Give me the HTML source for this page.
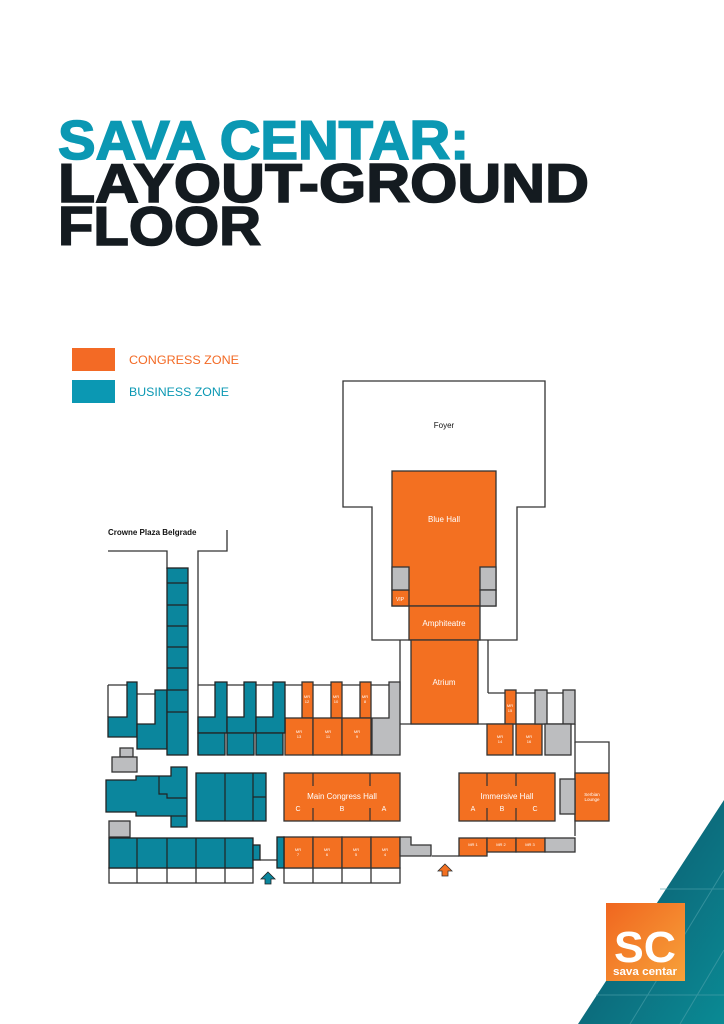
<!DOCTYPE html>
<html><head><meta charset="utf-8"><style>
html,body{margin:0;padding:0;background:#fff;}
body{width:724px;height:1024px;overflow:hidden;position:relative;font-family:"Liberation Sans",sans-serif;}
svg{position:absolute;left:0;top:0;}
</style></head><body>
<svg width="724" height="1024" viewBox="0 0 724 1024" xmlns="http://www.w3.org/2000/svg" font-family="Liberation Sans, sans-serif">
<defs>
<linearGradient id="tg" x1="0" y1="0" x2="1" y2="1"><stop offset="0" stop-color="#0f4f66"/><stop offset="1" stop-color="#0a8a94"/></linearGradient>
<linearGradient id="og" x1="0" y1="0" x2="1" y2="1"><stop offset="0" stop-color="#f0661f"/><stop offset="1" stop-color="#f7a23a"/></linearGradient>
</defs>
<!-- title -->
<text x="58" y="159" font-size="55" font-weight="bold" fill="#0b98b3" stroke="#0b98b3" stroke-width="1.6" textLength="411" lengthAdjust="spacingAndGlyphs">SAVA CENTAR:</text>
<text x="58" y="202" font-size="55" font-weight="bold" fill="#141b20" stroke="#141b20" stroke-width="1.6" textLength="531" lengthAdjust="spacingAndGlyphs">LAYOUT-GROUND</text>
<text x="58" y="245" font-size="55" font-weight="bold" fill="#141b20" stroke="#141b20" stroke-width="1.6" textLength="203" lengthAdjust="spacingAndGlyphs">FLOOR</text>
<!-- legend -->
<rect x="72" y="348" width="43" height="23" fill="#f36a25"/>
<rect x="72" y="380" width="43" height="23" fill="#0b98b3"/>
<text x="129" y="364" font-size="12" fill="#f36a25" textLength="110" lengthAdjust="spacingAndGlyphs">CONGRESS ZONE</text>
<text x="129" y="396" font-size="12" fill="#0b98b3" textLength="100" lengthAdjust="spacingAndGlyphs">BUSINESS ZONE</text>
<!-- bottom right decoration -->
<polygon points="724,800 724,1024 578,1024" fill="url(#tg)"/>
<g stroke="#4fa2ac" stroke-width="1" opacity="0.6">
<line x1="660" y1="889" x2="724" y2="889"/><line x1="596" y1="995" x2="724" y2="995"/>
<line x1="724" y1="870" x2="630" y2="1024"/><line x1="724" y1="950" x2="680" y2="1024"/>
</g>
<rect x="606" y="903" width="79" height="78" fill="url(#og)"/>
<text x="645" y="962" font-size="44" font-weight="bold" fill="#fff" text-anchor="middle" textLength="62" lengthAdjust="spacingAndGlyphs">SC</text>
<text x="645" y="975" font-size="11" font-weight="bold" fill="#fff" text-anchor="middle" textLength="64" lengthAdjust="spacingAndGlyphs">sava centar</text>

<g stroke="#333" stroke-width="1.3" fill="none">
<polygon points="343,381 545,381 545,507 517,507 517,640 372,640 372,507 343,507" fill="#fff"/>
<polyline points="108,551 167,551 167,569"/>
<polyline points="198,755 198,551 227,551 227,530"/>
<line x1="400" y1="640" x2="400" y2="690"/>
<line x1="488" y1="640" x2="488" y2="693"/>
<line x1="198" y1="685" x2="400" y2="685"/>
<line x1="108" y1="685" x2="127" y2="685"/>
<line x1="108" y1="685" x2="108" y2="717"/>
<line x1="137" y1="694" x2="155" y2="694"/>
<line x1="488" y1="693" x2="575" y2="693"/>
<line x1="400" y1="724" x2="575" y2="724"/>
<polyline points="575,724 575,742 609,742 609,773"/>
<line x1="575" y1="742" x2="575" y2="836"/>
<line x1="432" y1="856" x2="459" y2="856"/>
<line x1="260" y1="860" x2="277" y2="860"/>
<rect x="109" y="868" width="144" height="15"/>
<line x1="137" y1="868" x2="137" y2="883"/><line x1="167" y1="868" x2="167" y2="883"/><line x1="196" y1="868" x2="196" y2="883"/><line x1="225" y1="868" x2="225" y2="883"/>
<rect x="284" y="868" width="116" height="15"/>
<line x1="313" y1="868" x2="313" y2="883"/><line x1="342" y1="868" x2="342" y2="883"/><line x1="371" y1="868" x2="371" y2="883"/>
</g>

<g stroke="#333" stroke-width="1.3" fill="#f37021">
<rect x="392" y="471" width="104" height="135"/>
<rect x="409" y="606" width="71" height="34"/>
<rect x="411" y="640" width="67" height="84"/>
<rect x="392" y="590" width="17" height="16"/>
<rect x="302" y="682" width="11" height="36"/>
<rect x="331" y="682" width="11" height="36"/>
<rect x="360" y="682" width="11" height="36"/>
<rect x="285" y="718" width="28" height="37"/>
<rect x="313" y="718" width="29" height="37"/>
<rect x="342" y="718" width="29" height="37"/>
<rect x="284" y="773" width="116" height="48"/>
<rect x="284" y="837" width="29" height="31"/><rect x="313" y="837" width="29" height="31"/><rect x="342" y="837" width="29" height="31"/><rect x="371" y="837" width="29" height="31"/>
<rect x="505" y="690" width="11" height="34"/>
<rect x="487" y="724" width="26" height="31"/>
<rect x="516" y="724" width="26" height="31"/>
<rect x="459" y="773" width="96" height="48"/>
<rect x="575" y="773" width="34" height="48"/>
<rect x="459" y="838" width="28" height="18"/><rect x="487" y="838" width="29" height="14"/><rect x="516" y="838" width="29" height="14"/>
</g>
<g stroke="#333" stroke-width="1.2">
<line x1="313" y1="773" x2="313" y2="786"/><line x1="313" y1="808" x2="313" y2="821"/>
<line x1="370" y1="773" x2="370" y2="786"/><line x1="370" y1="808" x2="370" y2="821"/>
<line x1="487" y1="773" x2="487" y2="786"/><line x1="487" y1="808" x2="487" y2="821"/>
<line x1="516" y1="773" x2="516" y2="786"/><line x1="516" y1="808" x2="516" y2="821"/>
</g>
<g stroke="#333" stroke-width="1.3" fill="#bcbdbf">
<rect x="392" y="567" width="17" height="23"/>
<rect x="480" y="567" width="16" height="23"/>
<rect x="480" y="590" width="16" height="16"/>
<polygon points="389,682 400,682 400,755 372,755 372,718 389,718"/>
<rect x="535" y="690" width="12" height="34"/>
<rect x="563" y="690" width="12" height="34"/>
<rect x="545" y="724" width="26" height="31"/>
<rect x="560" y="779" width="15" height="35"/>
<rect x="545" y="838" width="30" height="14"/>
<polygon points="400,837 411,837 411,845 431,845 431,856 400,856"/>
<rect x="120" y="748" width="13" height="9"/>
<rect x="112" y="757" width="25" height="15"/>
<rect x="109" y="821" width="21" height="16"/>
</g>
<g stroke="#222" stroke-width="1.3" fill="#0b869d">
<polygon points="127,682 137,682 137,737 108,737 108,717 127,717"/>
<polygon points="155,690 167,690 167,749 137,749 137,724 155,724 155,694"/>
<rect x="167" y="568" width="21" height="187"/>
<polygon points="215,682 227,682 227,733 198,733 198,717 215,717"/>
<polygon points="244,682 256,682 256,733 227,733 227,717 244,717"/>
<polygon points="273,682 285,682 285,733 256,733 256,717 273,717"/>
<rect x="198" y="733" width="27" height="22"/><rect x="227" y="733" width="27" height="22"/><rect x="256" y="733" width="27" height="22"/>
<polygon points="106,780 136,780 136,776 171,776 171,767 187,767 187,827 171,827 171,816 136,816 136,812 106,812"/>
<rect x="196" y="773" width="70" height="48"/>
<rect x="109" y="838" width="144" height="30"/>
<rect x="253" y="845" width="7" height="15"/>
<rect x="277" y="837" width="7" height="31"/>
</g>
<g stroke="#222" stroke-width="1.2" fill="none">
<line x1="167" y1="583" x2="188" y2="583"/><line x1="167" y1="605" x2="188" y2="605"/><line x1="167" y1="626" x2="188" y2="626"/><line x1="167" y1="647" x2="188" y2="647"/><line x1="167" y1="668" x2="188" y2="668"/><line x1="167" y1="690" x2="188" y2="690"/><line x1="167" y1="712" x2="188" y2="712"/>
<polyline points="159,776 159,794 167,794 167,798 187,798"/>
<line x1="171" y1="816" x2="187" y2="816"/>
<line x1="225" y1="773" x2="225" y2="821"/><line x1="253" y1="773" x2="253" y2="821"/><line x1="253" y1="797" x2="266" y2="797"/>
<line x1="137" y1="838" x2="137" y2="868"/><line x1="167" y1="838" x2="167" y2="868"/><line x1="196" y1="838" x2="196" y2="868"/><line x1="225" y1="838" x2="225" y2="868"/>
</g>
<polygon points="268,872 275,879 271,879 271,884 265,884 265,879 261,879" fill="#0b869d" stroke="#222" stroke-width="0.8"/>
<polygon points="445,864 452,871 448,871 448,876 442,876 442,871 438,871" fill="#f37021" stroke="#333" stroke-width="0.8"/>

<g font-size="8" fill="#111">
<text x="444" y="428" text-anchor="middle">Foyer</text>
<text x="108" y="535" font-weight="bold" font-size="8">Crowne Plaza Belgrade</text>
</g>
<g fill="#fff" text-anchor="middle">
<text x="444" y="522" font-size="8">Blue Hall</text>
<text x="444" y="626" font-size="8">Amphiteatre</text>
<text x="444" y="685" font-size="8">Atrium</text>
<text x="400" y="601" font-size="5">VIP</text>
<text x="342" y="799" font-size="8">Main Congress Hall</text>
<text x="298" y="811" font-size="7">C</text><text x="342" y="811" font-size="7">B</text><text x="384" y="811" font-size="7">A</text>
<text x="507" y="799" font-size="8">Immersive Hall</text>
<text x="473" y="811" font-size="7">A</text><text x="502" y="811" font-size="7">B</text><text x="535" y="811" font-size="7">C</text>
<text x="592" y="796" font-size="4.5">Serbian</text><text x="592" y="801" font-size="4.5">Lounge</text>
<g font-size="4">
<text x="307" y="698">MR</text><text x="307" y="703">12</text>
<text x="336" y="698">MR</text><text x="336" y="703">10</text>
<text x="365" y="698">MR</text><text x="365" y="703">8</text>
<text x="299" y="733">MR</text><text x="299" y="738">13</text>
<text x="328" y="733">MR</text><text x="328" y="738">11</text>
<text x="357" y="733">MR</text><text x="357" y="738">9</text>
<text x="298" y="851">MR</text><text x="298" y="856">7</text>
<text x="327" y="851">MR</text><text x="327" y="856">6</text>
<text x="356" y="851">MR</text><text x="356" y="856">5</text>
<text x="385" y="851">MR</text><text x="385" y="856">4</text>
<text x="510" y="707">MR</text><text x="510" y="712">15</text>
<text x="500" y="738">MR</text><text x="500" y="743">14</text>
<text x="529" y="738">MR</text><text x="529" y="743">16</text>
<text x="473" y="846">MR 1</text><text x="501" y="846">MR 2</text><text x="530" y="846">MR 3</text>
</g>
</g>
</svg>
</body></html>
